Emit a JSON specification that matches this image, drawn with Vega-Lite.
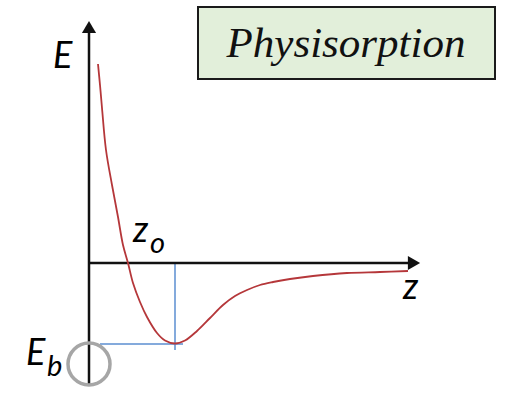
{
  "$schema": "https://vega.github.io/schema/vega-lite/v6.json",
  "width": 505,
  "height": 393,
  "autosize": {"type": "fit", "contains": "padding"},
  "padding": 0,
  "background": "white",
  "config": {"view": {"stroke": null}},
  "datasets": {
    "curve": [
      {"z": 0.9, "E": 19.9}, {"z": 1.1, "E": 17.8}, {"z": 1.3, "E": 15.5}, {"z": 1.7, "E": 11.3},
      {"z": 2.3, "E": 7.8}, {"z": 2.9, "E": 4.6}, {"z": 3.4, "E": 1.8}, {"z": 3.9, "E": 0.0},
      {"z": 4.4, "E": -2.0}, {"z": 5.1, "E": -3.9}, {"z": 5.8, "E": -5.4}, {"z": 6.8, "E": -7.0},
      {"z": 7.6, "E": -7.75}, {"z": 8.6, "E": -8.05}, {"z": 9.6, "E": -7.75}, {"z": 10.8, "E": -6.8},
      {"z": 12.1, "E": -5.5}, {"z": 13.4, "E": -4.2}, {"z": 14.6, "E": -3.3}, {"z": 15.8, "E": -2.7},
      {"z": 17.1, "E": -2.2}, {"z": 18.4, "E": -1.9}, {"z": 20.1, "E": -1.6}, {"z": 22.4, "E": -1.3},
      {"z": 25.8, "E": -1.0}, {"z": 29.1, "E": -0.9}, {"z": 31.9, "E": -0.8}
    ],
    "axes": [
      {"z": 0, "E": -12.1, "z2": 0, "E2": 23.5},
      {"z": 0, "E": 0, "z2": 32.0, "E2": 0}
    ],
    "guides": [
      {"z": 8.6, "E": 0, "z2": 8.6, "E2": -8.7},
      {"z": 1.1, "E": -8.1, "z2": 9.4, "E2": -8.1}
    ],
    "arrowUp": [{"z": 0, "E": 23.6}],
    "arrowRight": [{"z": 32.5, "E": 0}],
    "ring": [{"z": 0, "E": -10.1}],
    "box": [{"z": 10.9, "E": 25.6, "z2": 40.6, "E2": 18.4}],
    "title": [{"z": 25.7, "E": 20.6, "label": "Physisorption"}],
    "mainLabels": [
      {"z": -3.6, "E": 19.5, "label": "E"},
      {"z": 31.4, "E": -3.6, "label": "z"},
      {"z": 4.4, "E": 2.1, "label": "z"},
      {"z": -6.3, "E": -10.2, "label": "E"}
    ],
    "subLabels": [
      {"z": 6.1, "E": 1.0, "label": "o"},
      {"z": -4.2, "E": -11.3, "label": "b"}
    ]
  },
  "encoding": {
    "x": {"field": "z", "type": "quantitative", "scale": {"domain": [-8.9, 41.6], "nice": false, "zero": false}, "axis": null},
    "y": {"field": "E", "type": "quantitative", "scale": {"domain": [-13.0, 26.3], "nice": false, "zero": false}, "axis": null}
  },
  "layer": [
    {
      "data": {"name": "box"},
      "mark": {"type": "rect", "fill": "#e2efda", "stroke": "#1a1a1a", "strokeWidth": 2},
      "encoding": {"x2": {"field": "z2"}, "y2": {"field": "E2"}}
    },
    {
      "data": {"name": "title"},
      "mark": {"type": "text", "font": "Liberation Serif", "fontStyle": "italic", "fontSize": 43, "align": "center", "baseline": "alphabetic", "color": "#111"},
      "encoding": {"text": {"field": "label"}}
    },
    {
      "data": {"name": "guides"},
      "mark": {"type": "rule", "color": "#5b8ed0", "strokeWidth": 1.5},
      "encoding": {"x2": {"field": "z2"}, "y2": {"field": "E2"}}
    },
    {
      "data": {"name": "axes"},
      "mark": {"type": "rule", "color": "#111", "strokeWidth": 2.5},
      "encoding": {"x2": {"field": "z2"}, "y2": {"field": "E2"}}
    },
    {
      "data": {"name": "arrowUp"},
      "mark": {"type": "point", "shape": "triangle-up", "filled": true, "color": "#111", "size": 200, "opacity": 1}
    },
    {
      "data": {"name": "arrowRight"},
      "mark": {"type": "point", "shape": "triangle-right", "filled": true, "color": "#111", "size": 200, "opacity": 1}
    },
    {
      "data": {"name": "curve"},
      "mark": {"type": "line", "color": "#b5373a", "strokeWidth": 1.8, "interpolate": "catmull-rom"}
    },
    {
      "data": {"name": "ring"},
      "mark": {"type": "point", "shape": "circle", "filled": false, "stroke": "#a6a6a6", "strokeWidth": 3.5, "size": 1764, "opacity": 1}
    },
    {
      "data": {"name": "mainLabels"},
      "mark": {"type": "text", "font": "Lato", "fontStyle": "italic", "fontSize": 36, "align": "left", "baseline": "alphabetic", "color": "#000"},
      "encoding": {"text": {"field": "label"}}
    },
    {
      "data": {"name": "subLabels"},
      "mark": {"type": "text", "font": "Lato", "fontStyle": "italic", "fontSize": 29, "align": "left", "baseline": "alphabetic", "color": "#000"},
      "encoding": {"text": {"field": "label"}}
    }
  ]
}
